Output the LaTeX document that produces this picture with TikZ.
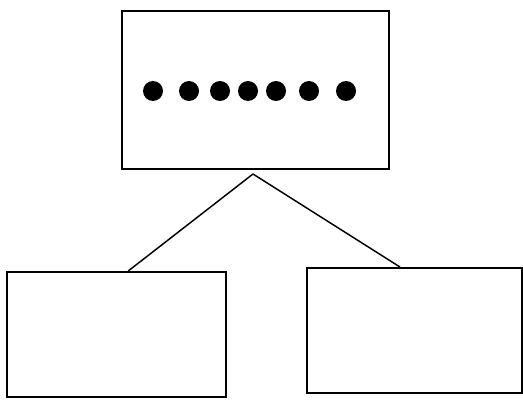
\documentclass[tikz,border=0pt]{standalone}
\usepackage{tikz}
\usetikzlibrary{calc}
\tikzset{
  mainbox/.style={draw, line width=1.5pt, fill=white, inner sep=0pt,
                  minimum width=#1},
  mainbox/.default=164.25pt,
  rootbox/.style={mainbox=200.25pt, minimum height=118.5pt},
  leafbox/.style={mainbox, minimum height=93.75pt},
  dotnode/.style={circle, fill=black, inner sep=0pt, minimum size=15pt},
  conn/.style   ={line width=1.1pt},
}

\begin{document}
\begin{tikzpicture}[x=0.75pt,y=-0.75pt]
  \useasboundingbox (0,0) rectangle (523,399);
  \node[rootbox] (root) at (255.5,90) {};
  \node[leafbox] (lleaf) at (116.5,334.5) {};
  \node[leafbox, minimum width=161.25pt] (rleaf) at (414.5,330.5) {};
  \foreach \x [count=\i] in {153,189,220,248,276,309,346}
    \node[dotnode] (d\i) at (\x,91) {};
  \coordinate (apex) at ($(root.south)+(-2.5,4)$);
  \draw[conn](apex)--($(lleaf.north west)!0.553!(lleaf.north east)$);
  \draw[conn](apex)--($(rleaf.north west)!0.433!(rleaf.north east)$);
\end{tikzpicture}
\end{document}
